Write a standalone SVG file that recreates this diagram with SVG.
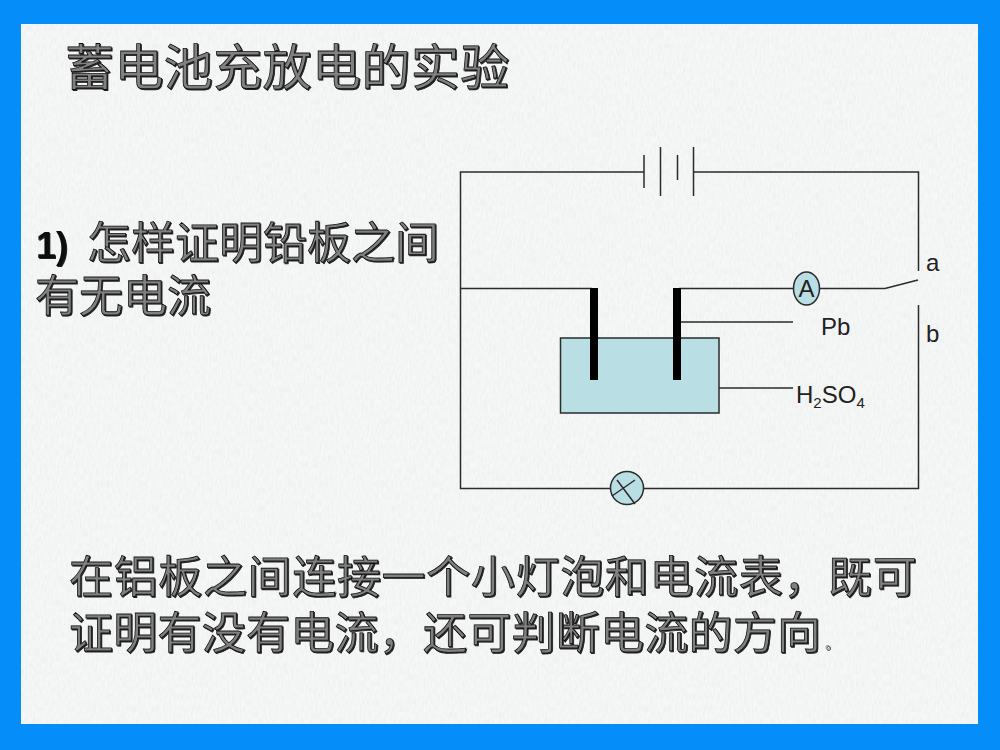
<svg xmlns="http://www.w3.org/2000/svg" width="1000" height="750" viewBox="0 0 1000 750">
<style>
.w{fill:none;stroke:#2b2b2b;stroke-width:1.5}
.cn{font-family:"Noto Sans CJK SC","Noto Sans CJK JP",sans-serif;font-size:44px;fill:#808080;stroke:#111;stroke-width:0.8;filter:url(#emb)}
.lb{font-family:"Liberation Sans",Arial,sans-serif;font-size:24px;fill:#222}
.sub{font-size:15px}
</style>
<defs>
<filter id="paper" x="0" y="0" width="100%" height="100%">
<feTurbulence type="fractalNoise" baseFrequency="0.5 0.16" numOctaves="3" seed="4"/>
<feColorMatrix values="0 0 0 0 0.55  0 0 0 0 0.55  0 0 0 0 0.55  0.3 0 0 0 -0.09"/>
<feComposite in2="SourceGraphic" operator="in" result="n"/>
<feMerge><feMergeNode in="SourceGraphic"/><feMergeNode in="n"/></feMerge>
</filter>
<filter id="emb" x="-2%" y="-10%" width="104%" height="120%">
<feOffset in="SourceAlpha" dx="1" dy="1" result="o"/>
<feFlood flood-color="#222"/><feComposite in2="o" operator="in" result="s"/>
<feMerge><feMergeNode in="s"/><feMergeNode in="SourceGraphic"/></feMerge>
</filter>
</defs>
<rect width="1000" height="750" fill="#058ef9"/>
<rect x="21" y="24" width="957" height="700" fill="#f6f7f7" filter="url(#paper)"/>

<text id="title" class="cn" x="65" y="85" style="font-size:49px" letter-spacing="0.4">蓄电池充放电的实验</text>
<g id="question">
<text class="cn"><tspan x="36" y="258" font-family="'Liberation Sans',Arial,sans-serif" font-weight="700" font-size="36" fill="#111" stroke="none">1)</tspan><tspan x="87" y="259">怎样证明铅板之间</tspan><tspan x="35" y="312">有无电流</tspan></text>
</g>
<g id="answer">
<text class="cn"><tspan x="69" y="593" letter-spacing="0.65">在铝板之间连接一个小灯泡和电流表&#xFF0C;既可</tspan><tspan x="69" y="649" letter-spacing="0.25">证明有没有电流&#xFF0C;还可判断电流的方向</tspan><tspan x="825" y="648" font-size="14" fill="#888" stroke="none">&#x3002;</tspan></text>
</g>

<g id="connectors">
<path class="w" d="M644 172H460.5V488.5H611M643 488.5H918.5V305M918.5 271V172H694"/>
<path class="w" d="M460.5 288.5H592M679 288.5H794M819 288.5H885L918 280"/>
<path class="w" d="M681 322H793M719 388H793"/>
</g>
<g id="battery">
<path class="w" d="M644 155V188M660.5 147V196M677.5 155V180M693.5 147V196"/>
</g>
<g id="tank">
<rect x="560.5" y="338" width="158.5" height="75" fill="#b9dfe4" stroke="#2b2b2b" stroke-width="1.5"/>
</g>
<g id="electrodes">
<rect x="590" y="288" width="8" height="92" fill="#000"/>
<rect x="673" y="288" width="8" height="92" fill="#000"/>
</g>
<g id="ammeter">
<ellipse cx="806.5" cy="288.5" rx="13" ry="16.5" fill="#b9dfe4" stroke="#2b2b2b" stroke-width="1.5"/>
<text class="lb" x="806.5" y="297" text-anchor="middle">A</text>
</g>
<g id="lamp">
<circle cx="627" cy="488" r="16.5" fill="#b9dfe4" stroke="#2b2b2b" stroke-width="1.5"/>
<path class="w" d="M612 496L635 480M617 480L635 504"/>
</g>
<g id="labels">
<text class="lb" x="926" y="271">a</text>
<text class="lb" x="926" y="342">b</text>
<text class="lb" x="821" y="335">Pb</text>
<text class="lb" x="796" y="403">H<tspan class="sub" dy="5">2</tspan><tspan dy="-5">SO</tspan><tspan class="sub" dy="5">4</tspan></text>
</g>
</svg>
